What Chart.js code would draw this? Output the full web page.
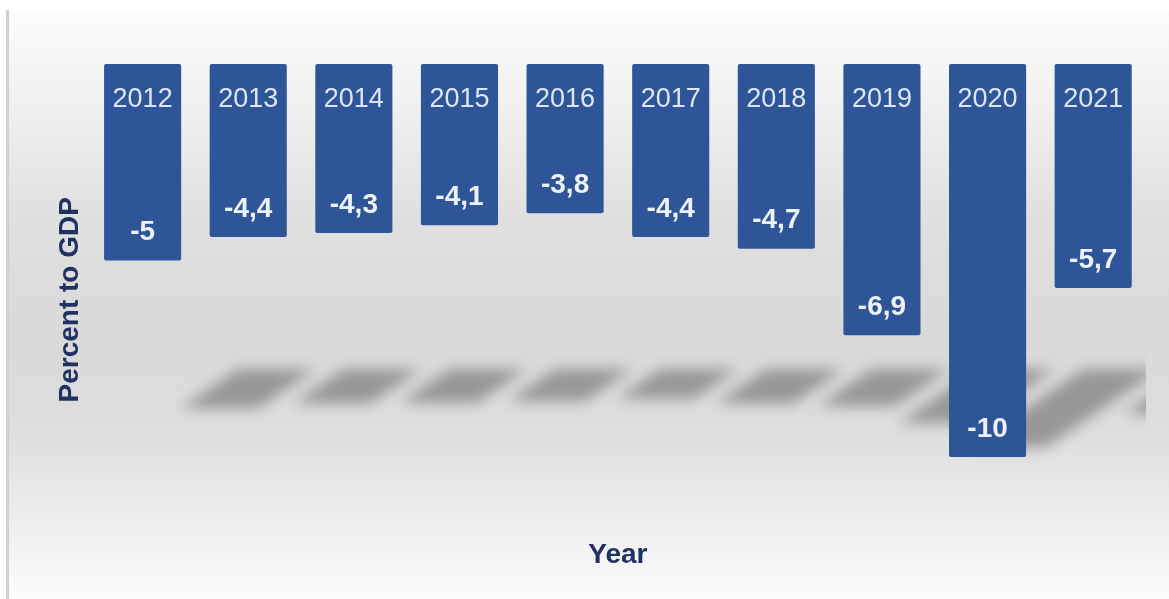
<!DOCTYPE html>
<html>
<head>
<meta charset="utf-8">
<title>Budget balance</title>
<script src="https://cdn.jsdelivr.net/npm/chart.js@4/dist/chart.umd.min.js"></script>
<style>
  body { margin: 0; background: #fff; }
  #wrap { width: 1169px; height: 599px; }
</style>
</head>
<body>
<div id="wrap"><canvas id="deficit" width="1169" height="599"></canvas></div>
<script>
// budget balance, percent to GDP
const years = ['2012', '2013', '2014', '2015', '2016', '2017', '2018', '2019', '2020', '2021'];
const balance = [-5, -4.4, -4.3, -4.1, -3.8, -4.4, -4.7, -6.9, -10, -5.7];
const yMin = -12;
const yMax = 0;

const barBlue = '#2e5597';
const navy = '#1f3261';

//------------------------ background + left rule ------------------------//
const panelBg = {
  id: 'panelBg',
  beforeDraw(chart) {
    const ctx = chart.ctx;
    const w = chart.width, h = chart.height;
    ctx.save();
    ctx.fillStyle = '#ffffff';
    ctx.fillRect(0, 0, w, h);
    const g = ctx.createLinearGradient(0, 10, 0, h);
    g.addColorStop(0.00, '#fcfcfc');
    g.addColorStop(0.15, '#f1f1f1');
    g.addColorStop(0.35, '#e0e0e0');
    g.addColorStop(0.55, '#d9d9d9');
    g.addColorStop(0.72, '#dedede');
    g.addColorStop(0.85, '#ececec');
    g.addColorStop(1.00, '#fcfcfc');
    ctx.fillStyle = g;
    ctx.fillRect(9, 10, w - 9, h - 10);
    ctx.fillStyle = '#cfcfcf';
    ctx.fillRect(6, 10, 3, h - 10);
    ctx.restore();
  }
};

//------------------- blurred floor shadows of the bars -------------------//
const floorShadow = {
  id: 'floorShadow',
  beforeDatasetsDraw(chart) {
    const ctx = chart.ctx;
    const meta = chart.getDatasetMeta(0);
    const area = chart.chartArea;
    ctx.save();
    ctx.beginPath();
    ctx.rect(area.left, area.top, area.right - area.left, area.bottom - area.top);
    ctx.clip();
    ctx.filter = 'blur(7px)';
    ctx.fillStyle = 'rgba(125,125,125,0.72)';
    const top = 369;
    meta.data.forEach((bar) => {
      const len = bar.y - bar.base;
      const h = 0.2 * len;
      const d = 0.29 * len;
      const left = bar.x - bar.width / 2 + 134;
      ctx.beginPath();
      ctx.moveTo(left, top);
      ctx.lineTo(left + bar.width, top);
      ctx.lineTo(left + bar.width - d, top + h);
      ctx.lineTo(left - d, top + h);
      ctx.closePath();
      ctx.fill();
    });
    ctx.restore();
  }
};

//----------------------- year and value labels -----------------------//
const barLabels = {
  id: 'barLabels',
  afterDatasetsDraw(chart) {
    const ctx = chart.ctx;
    const meta = chart.getDatasetMeta(0);
    const zero = chart.scales.y.getPixelForValue(0);
    ctx.save();
    ctx.textAlign = 'center';
    ctx.textBaseline = 'middle';
    meta.data.forEach((bar, i) => {
      ctx.fillStyle = '#dfe6f3';
      ctx.font = '27px Arial, "Liberation Sans", sans-serif';
      ctx.fillText(years[i], bar.x, zero + 36);
      ctx.fillStyle = '#eef2fa';
      ctx.font = 'bold 28px Arial, "Liberation Sans", sans-serif';
      ctx.fillText(String(balance[i]).replace('.', ','), bar.x, bar.y - 28);
    });
    ctx.restore();
  }
};

const config = {
  type: 'bar',
  data: {
    labels: years,
    datasets: [{
      data: balance,
      backgroundColor: barBlue,
      borderWidth: 0,
      borderRadius: 2,
      borderSkipped: false,
      barPercentage: 0.73,
      categoryPercentage: 1
    }]
  },
  options: {
    responsive: false,
    animation: false,
    layout: { padding: { top: 64, right: 23, bottom: 0, left: 0 } },
    plugins: {
      legend: { display: false },
      tooltip: { enabled: false }
    },
    scales: {
      x: {
        grid: { display: false, drawTicks: false },
        border: { display: false },
        ticks: { display: false },
        title: {
          display: true,
          text: 'Year',
          color: navy,
          font: { family: 'Arial, "Liberation Sans", sans-serif', size: 28, weight: 'bold', lineHeight: 1.2 },
          padding: { top: 2.6, bottom: 27.2 }
        }
      },
      y: {
        min: yMin,
        max: yMax,
        grid: { display: false, drawTicks: false },
        border: { display: false },
        ticks: { display: false },
        title: {
          display: true,
          text: 'Percent to GDP',
          color: navy,
          font: { family: 'Arial, "Liberation Sans", sans-serif', size: 28, weight: 'bold', lineHeight: 1.2 },
          padding: { top: 53.2, bottom: 3 }
        }
      }
    }
  },
  plugins: [panelBg, floorShadow, barLabels]
};

const chartDeficit = new Chart(document.getElementById('deficit'), config);
</script>
</body>
</html>
